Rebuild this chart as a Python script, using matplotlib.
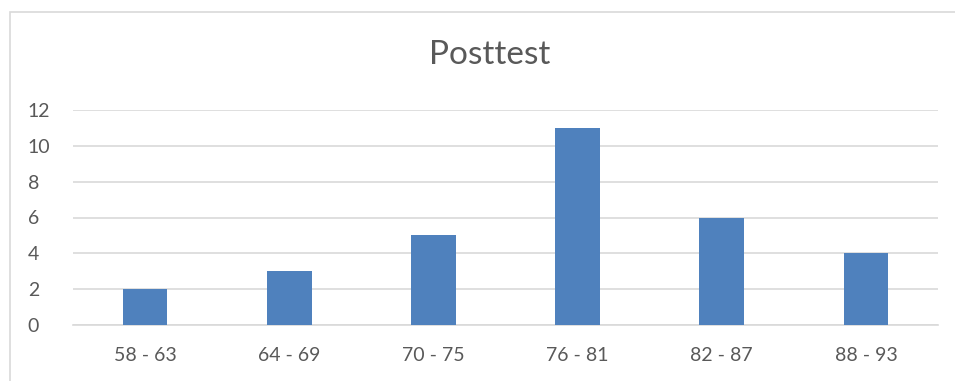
import matplotlib
matplotlib.use("Agg")
import matplotlib.pyplot as plt
from matplotlib.patches import Rectangle

categories = ["58 - 63", "64 - 69", "70 - 75", "76 - 81", "82 - 87", "88 - 93"]
counts = [2, 3, 5, 11, 6, 4]
y_ticks = [0, 2, 4, 6, 8, 10, 12]

W, H = 955, 381
fig = plt.figure(figsize=(W / 100, H / 100), dpi=100)
fig.patch.set_facecolor("white")

text_color = "#595959"
grid_color = "#D9D9D9"
bar_color = "#4F81BD"
font = ["Lato", "DejaVu Sans"]

# chart area border (open to the right and bottom)
fig.add_artist(Rectangle((9.5 / W, -0.1), 1.2, (H - 11.5) / H + 0.1,
                         transform=fig.transFigure, fill=False,
                         edgecolor=grid_color, linewidth=1.2))

ax = fig.add_axes([73 / W, (H - 325) / H, (938 - 73) / W, (325 - 110) / H])
x = list(range(len(categories)))
ax.bar(x, counts, width=0.31, color=bar_color, zorder=3)
ax.set_xlim(-0.5, len(categories) - 0.5)
ax.set_ylim(0, 12)
ax.set_yticks(y_ticks)
ax.set_xticks(x)
ax.set_xticklabels(categories)
ax.yaxis.grid(True, color=grid_color, linewidth=1.2, zorder=0)
ax.set_axisbelow(True)
for s in ["top", "right", "left"]:
    ax.spines[s].set_visible(False)
ax.spines["bottom"].set_color(grid_color)
ax.spines["bottom"].set_linewidth(1.2)
ax.tick_params(axis="both", length=0, labelsize=14, colors=text_color)
ax.tick_params(axis="x", pad=16)
ax.tick_params(axis="y", pad=32.5)
for lab in ax.get_xticklabels() + ax.get_yticklabels():
    lab.set_family(font)
for lab in ax.get_yticklabels():
    lab.set_horizontalalignment("left")

fig.text(489.5 / W, 1 - 55 / H, "Posttest", ha="center", va="center",
         fontsize=24, color=text_color, family=font)

fig.savefig("out.png", dpi=100)
